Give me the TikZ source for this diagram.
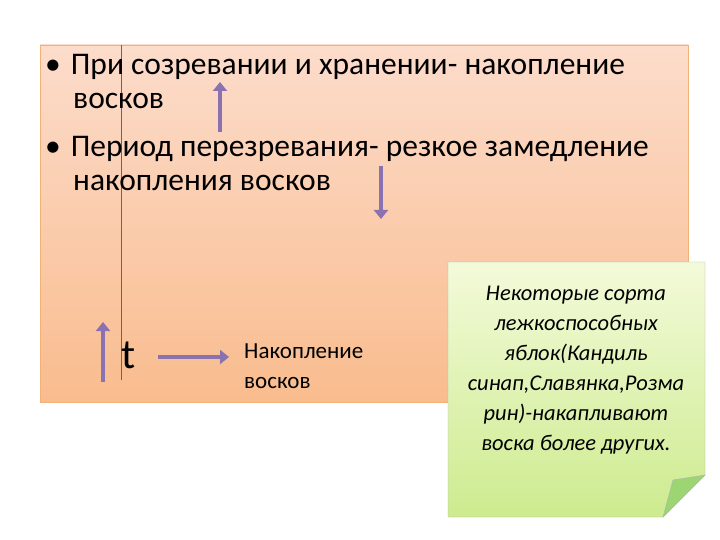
\documentclass[tikz,border=0pt]{standalone}
\usepackage{fontspec}
\setmainfont{Carlito}
\definecolor{otop}{HTML}{FCDCCB}
\definecolor{obot}{HTML}{F9BC8E}
\definecolor{ntop}{HTML}{F3FAD9}
\definecolor{nbot}{HTML}{CDEB8F}
\definecolor{arr}{HTML}{8A72B0}
\tikzset{parrow/.style={draw=arr,line width=4.5pt,-{Triangle[length=9pt,width=14pt]}},
 txt/.style={anchor=north west,inner sep=0pt,align=left}}
\usetikzlibrary{arrows.meta}
\begin{document}
\begin{tikzpicture}[x=1pt,y=-1pt]
\useasboundingbox (0,0) rectangle (720,540);
\fill[white] (0,0) rectangle (720,540);
\shade[top color=otop,bottom color=obot,draw=orange!60!brown!60] (40,45) rectangle (688,402);
\draw[gray!80!black,line width=0.6pt] (121,45) coordinate (va) -- (121,380) coordinate (vb);
\node[txt,font=\fontsize{31.5}{34}\selectfont] (b1) at (45,54)
 {•\hspace{10pt}При созревании и хранении- накопление\\\hspace*{28pt}восков\\[14pt]•\hspace{10pt}Период перезревания- резкое замедление\\\hspace*{28pt}накопления восков};
\coordinate (u1) at (220,132); \coordinate (u2) at (220,82);
\draw[parrow] (u1) -- (u2);
\coordinate (d1) at (381,166); \coordinate (d2) at (381,219);
\draw[parrow] (d1) -- (d2);
\coordinate (t1) at (103,382); \coordinate (t2) at (103,322);
\draw[parrow] (t1) -- (t2);
\node[inner sep=0pt,font=\fontsize{42}{44}\selectfont] (t) at (129,355) {t};
\coordinate (r1) at (158,357); \coordinate (r2) at (229,357);
\draw[parrow] (r1) -- (r2);
\node[txt,font=\fontsize{23}{30}\selectfont] (nak) at (244,344) {Накопление\\восков};
\shade[top color=ntop,bottom color=nbot,draw=gray!60] (448,262) -- (705,262) -- (705,475) -- (663,517) -- (448,517) -- cycle;
\fill[green!40!olive!55!white,draw=gray!60] (705,475) -- (663,517) -- (673,480) -- cycle;
\node[font=\itshape\fontsize{22.5}{30}\selectfont,align=center] (note) at (576,370)
 {Некоторые сорта\\лежкоспособных\\яблок(Кандиль\\синап,Славянка,Розма\\рин)-накапливают\\воска более других.};
\end{tikzpicture}
\end{document}
